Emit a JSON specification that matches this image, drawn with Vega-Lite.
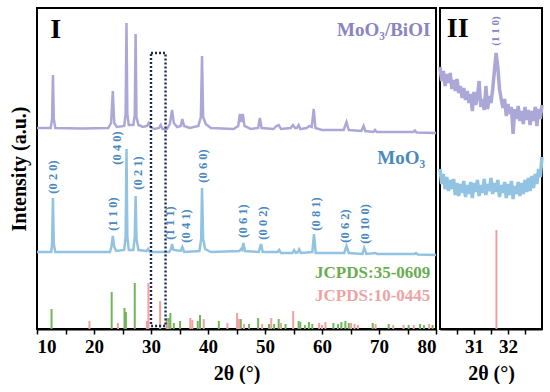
{
  "$schema": "https://vega.github.io/schema/vega-lite/v6.json",
  "padding": {"left": 8, "top": 7, "right": 7, "bottom": 0},
  "spacing": 4,
  "bounds": "flush",
  "config": {
    "font": "Liberation Serif",
    "view": {"stroke": "#000", "strokeWidth": 2},
    "axis": {
      "grid": false, "labelFont": "Liberation Serif", "titleFont": "Liberation Serif",
      "labelFontWeight": "bold", "titleFontWeight": "bold", "labelColor": "#000", "titleColor": "#000",
      "labelFontSize": 19, "titleFontSize": 20, "tickColor": "#000", "tickWidth": 1.5, "tickSize": 5,
      "domainColor": "#000", "domainWidth": 2, "labelPadding": 3, "titlePadding": 7
    }
  },
  "datasets": {
    "curves": [
      {"s":"BiOI","x":10,"y":201},{"s":"BiOI","x":12.4,"y":201},{"s":"BiOI","x":12.65,"y":210},{"s":"BiOI","x":12.8,"y":254},{"s":"BiOI","x":12.95,"y":210},{"s":"BiOI","x":13.2,"y":201},{"s":"BiOI","x":18,"y":200.5},{"s":"BiOI","x":22.5,"y":201},{"s":"BiOI","x":23.0,"y":206},{"s":"BiOI","x":23.3,"y":238},{"s":"BiOI","x":23.55,"y":206},{"s":"BiOI","x":24.0,"y":202},{"s":"BiOI","x":25.3,"y":203},{"s":"BiOI","x":25.55,"y":215},{"s":"BiOI","x":25.7,"y":306},{"s":"BiOI","x":25.85,"y":215},{"s":"BiOI","x":26.1,"y":204},{"s":"BiOI","x":26.9,"y":204},{"s":"BiOI","x":27.15,"y":214},{"s":"BiOI","x":27.3,"y":295},{"s":"BiOI","x":27.45,"y":212},{"s":"BiOI","x":27.8,"y":204},{"s":"BiOI","x":28.6,"y":202},{"s":"BiOI","x":29.3,"y":203},{"s":"BiOI","x":29.6,"y":206},{"s":"BiOI","x":29.9,"y":202},{"s":"BiOI","x":30.6,"y":200},{"s":"BiOI","x":31.4,"y":201},{"s":"BiOI","x":31.7,"y":204},{"s":"BiOI","x":32.0,"y":200},{"s":"BiOI","x":32.8,"y":200},{"s":"BiOI","x":33.3,"y":205},{"s":"BiOI","x":33.7,"y":219},{"s":"BiOI","x":34.0,"y":206},{"s":"BiOI","x":34.6,"y":202},{"s":"BiOI","x":35.2,"y":203},{"s":"BiOI","x":35.5,"y":210},{"s":"BiOI","x":35.8,"y":203},{"s":"BiOI","x":36.8,"y":201},{"s":"BiOI","x":38.3,"y":203},{"s":"BiOI","x":38.75,"y":212},{"s":"BiOI","x":38.95,"y":273},{"s":"BiOI","x":39.15,"y":212},{"s":"BiOI","x":39.6,"y":205},{"s":"BiOI","x":40.5,"y":201},{"s":"BiOI","x":44.5,"y":200},{"s":"BiOI","x":45.3,"y":203},{"s":"BiOI","x":45.6,"y":215},{"s":"BiOI","x":45.85,"y":207},{"s":"BiOI","x":46.1,"y":215},{"s":"BiOI","x":46.4,"y":203},{"s":"BiOI","x":47.5,"y":200},{"s":"BiOI","x":48.8,"y":201},{"s":"BiOI","x":49.1,"y":211},{"s":"BiOI","x":49.4,"y":201},{"s":"BiOI","x":51.5,"y":200},{"s":"BiOI","x":52.0,"y":203},{"s":"BiOI","x":52.4,"y":204},{"s":"BiOI","x":52.8,"y":200},{"s":"BiOI","x":54.5,"y":201},{"s":"BiOI","x":54.9,"y":204},{"s":"BiOI","x":55.3,"y":201},{"s":"BiOI","x":55.6,"y":201},{"s":"BiOI","x":55.9,"y":204},{"s":"BiOI","x":56.2,"y":200},{"s":"BiOI","x":57.3,"y":201},{"s":"BiOI","x":57.8,"y":203},{"s":"BiOI","x":58.2,"y":202},{"s":"BiOI","x":58.55,"y":220},{"s":"BiOI","x":58.85,"y":201},{"s":"BiOI","x":60,"y":199},{"s":"BiOI","x":63.8,"y":199},{"s":"BiOI","x":64.3,"y":207},{"s":"BiOI","x":64.7,"y":199},{"s":"BiOI","x":66.9,"y":198},{"s":"BiOI","x":67.3,"y":203},{"s":"BiOI","x":67.6,"y":198},{"s":"BiOI","x":69.0,"y":197},{"s":"BiOI","x":69.3,"y":199},{"s":"BiOI","x":69.6,"y":197},{"s":"BiOI","x":76,"y":197},{"s":"BiOI","x":76.3,"y":198.5},{"s":"BiOI","x":76.6,"y":196.5},{"s":"BiOI","x":80,"y":196},
      {"s":"MoO3","x":10,"y":77},{"s":"MoO3","x":12.5,"y":77},{"s":"MoO3","x":12.65,"y":85},{"s":"MoO3","x":12.8,"y":131},{"s":"MoO3","x":12.95,"y":85},{"s":"MoO3","x":13.2,"y":77},{"s":"MoO3","x":22.8,"y":77},{"s":"MoO3","x":23.05,"y":82},{"s":"MoO3","x":23.3,"y":93},{"s":"MoO3","x":23.55,"y":82},{"s":"MoO3","x":23.9,"y":78},{"s":"MoO3","x":25.3,"y":79},{"s":"MoO3","x":25.55,"y":92},{"s":"MoO3","x":25.7,"y":180},{"s":"MoO3","x":25.85,"y":92},{"s":"MoO3","x":26.1,"y":79},{"s":"MoO3","x":26.9,"y":79},{"s":"MoO3","x":27.15,"y":92},{"s":"MoO3","x":27.3,"y":133},{"s":"MoO3","x":27.45,"y":90},{"s":"MoO3","x":27.8,"y":79},{"s":"MoO3","x":29.2,"y":78},{"s":"MoO3","x":29.5,"y":80},{"s":"MoO3","x":29.8,"y":77},{"s":"MoO3","x":33.2,"y":77},{"s":"MoO3","x":33.5,"y":80},{"s":"MoO3","x":33.7,"y":85},{"s":"MoO3","x":33.95,"y":79},{"s":"MoO3","x":35.2,"y":78},{"s":"MoO3","x":35.5,"y":82},{"s":"MoO3","x":35.8,"y":77},{"s":"MoO3","x":38.5,"y":78},{"s":"MoO3","x":38.8,"y":90},{"s":"MoO3","x":38.95,"y":141},{"s":"MoO3","x":39.15,"y":90},{"s":"MoO3","x":39.5,"y":80},{"s":"MoO3","x":40.5,"y":77},{"s":"MoO3","x":45.5,"y":78},{"s":"MoO3","x":45.8,"y":80},{"s":"MoO3","x":46.0,"y":79},{"s":"MoO3","x":46.2,"y":86},{"s":"MoO3","x":46.5,"y":78},{"s":"MoO3","x":48.9,"y":77},{"s":"MoO3","x":49.3,"y":85},{"s":"MoO3","x":49.6,"y":77},{"s":"MoO3","x":52.2,"y":77},{"s":"MoO3","x":52.5,"y":79},{"s":"MoO3","x":52.8,"y":76},{"s":"MoO3","x":54.8,"y":76},{"s":"MoO3","x":55.1,"y":79},{"s":"MoO3","x":55.4,"y":76},{"s":"MoO3","x":55.8,"y":77},{"s":"MoO3","x":56.0,"y":79.5},{"s":"MoO3","x":56.3,"y":76},{"s":"MoO3","x":58.3,"y":77},{"s":"MoO3","x":58.6,"y":95},{"s":"MoO3","x":58.9,"y":76},{"s":"MoO3","x":63.9,"y":76},{"s":"MoO3","x":64.3,"y":83},{"s":"MoO3","x":64.7,"y":76},{"s":"MoO3","x":67.1,"y":75},{"s":"MoO3","x":67.4,"y":81},{"s":"MoO3","x":67.8,"y":75},{"s":"MoO3","x":69.4,"y":76},{"s":"MoO3","x":69.7,"y":75},{"s":"MoO3","x":76.2,"y":75},{"s":"MoO3","x":76.5,"y":76},{"s":"MoO3","x":76.8,"y":74.5},{"s":"MoO3","x":80,"y":74}
    ],
    "zoomcurves": [
      {"s":"BiOI","x":30.00,"y":262},{"s":"BiOI","x":30.05,"y":248},{"s":"BiOI","x":30.10,"y":258},{"s":"BiOI","x":30.15,"y":243},{"s":"BiOI","x":30.20,"y":255},{"s":"BiOI","x":30.25,"y":246},{"s":"BiOI","x":30.30,"y":256},{"s":"BiOI","x":30.35,"y":240},{"s":"BiOI","x":30.40,"y":249},{"s":"BiOI","x":30.45,"y":238},{"s":"BiOI","x":30.50,"y":250},{"s":"BiOI","x":30.55,"y":236},{"s":"BiOI","x":30.60,"y":243},{"s":"BiOI","x":30.65,"y":231},{"s":"BiOI","x":30.70,"y":241},{"s":"BiOI","x":30.75,"y":229},{"s":"BiOI","x":30.80,"y":238},{"s":"BiOI","x":30.85,"y":226},{"s":"BiOI","x":30.90,"y":235},{"s":"BiOI","x":30.95,"y":218},{"s":"BiOI","x":31.00,"y":237},{"s":"BiOI","x":31.05,"y":224},{"s":"BiOI","x":31.10,"y":232},{"s":"BiOI","x":31.15,"y":248},{"s":"BiOI","x":31.20,"y":222},{"s":"BiOI","x":31.25,"y":230},{"s":"BiOI","x":31.30,"y":219},{"s":"BiOI","x":31.35,"y":243},{"s":"BiOI","x":31.40,"y":220},{"s":"BiOI","x":31.45,"y":233},{"s":"BiOI","x":31.50,"y":226},{"s":"BiOI","x":31.55,"y":240},{"s":"BiOI","x":31.60,"y":258},{"s":"BiOI","x":31.65,"y":276},{"s":"BiOI","x":31.70,"y":262},{"s":"BiOI","x":31.75,"y":240},{"s":"BiOI","x":31.80,"y":230},{"s":"BiOI","x":31.85,"y":221},{"s":"BiOI","x":31.90,"y":230},{"s":"BiOI","x":31.95,"y":213},{"s":"BiOI","x":32.00,"y":225},{"s":"BiOI","x":32.05,"y":215},{"s":"BiOI","x":32.10,"y":222},{"s":"BiOI","x":32.15,"y":195},{"s":"BiOI","x":32.20,"y":220},{"s":"BiOI","x":32.25,"y":210},{"s":"BiOI","x":32.30,"y":223},{"s":"BiOI","x":32.35,"y":208},{"s":"BiOI","x":32.40,"y":218},{"s":"BiOI","x":32.45,"y":205},{"s":"BiOI","x":32.50,"y":222},{"s":"BiOI","x":32.55,"y":209},{"s":"BiOI","x":32.60,"y":219},{"s":"BiOI","x":32.65,"y":204},{"s":"BiOI","x":32.70,"y":218},{"s":"BiOI","x":32.75,"y":208},{"s":"BiOI","x":32.80,"y":222},{"s":"BiOI","x":32.85,"y":203},{"s":"BiOI","x":32.90,"y":220},{"s":"BiOI","x":32.95,"y":210},{"s":"BiOI","x":33.00,"y":224},
      {"s":"MoO3","x":30.00,"y":160},{"s":"MoO3","x":30.05,"y":145},{"s":"MoO3","x":30.10,"y":155},{"s":"MoO3","x":30.15,"y":140},{"s":"MoO3","x":30.20,"y":152},{"s":"MoO3","x":30.25,"y":138},{"s":"MoO3","x":30.30,"y":149},{"s":"MoO3","x":30.35,"y":140},{"s":"MoO3","x":30.40,"y":150},{"s":"MoO3","x":30.45,"y":134},{"s":"MoO3","x":30.50,"y":146},{"s":"MoO3","x":30.55,"y":133},{"s":"MoO3","x":30.60,"y":145},{"s":"MoO3","x":30.65,"y":136},{"s":"MoO3","x":30.70,"y":148},{"s":"MoO3","x":30.75,"y":132},{"s":"MoO3","x":30.80,"y":144},{"s":"MoO3","x":30.85,"y":135},{"s":"MoO3","x":30.90,"y":147},{"s":"MoO3","x":30.95,"y":131},{"s":"MoO3","x":31.00,"y":146},{"s":"MoO3","x":31.05,"y":137},{"s":"MoO3","x":31.10,"y":149},{"s":"MoO3","x":31.15,"y":133},{"s":"MoO3","x":31.20,"y":144},{"s":"MoO3","x":31.25,"y":136},{"s":"MoO3","x":31.30,"y":150},{"s":"MoO3","x":31.35,"y":134},{"s":"MoO3","x":31.40,"y":145},{"s":"MoO3","x":31.45,"y":138},{"s":"MoO3","x":31.50,"y":151},{"s":"MoO3","x":31.55,"y":135},{"s":"MoO3","x":31.60,"y":146},{"s":"MoO3","x":31.65,"y":137},{"s":"MoO3","x":31.70,"y":149},{"s":"MoO3","x":31.75,"y":132},{"s":"MoO3","x":31.80,"y":144},{"s":"MoO3","x":31.85,"y":136},{"s":"MoO3","x":31.90,"y":147},{"s":"MoO3","x":31.95,"y":131},{"s":"MoO3","x":32.00,"y":145},{"s":"MoO3","x":32.05,"y":134},{"s":"MoO3","x":32.10,"y":148},{"s":"MoO3","x":32.15,"y":130},{"s":"MoO3","x":32.20,"y":143},{"s":"MoO3","x":32.25,"y":135},{"s":"MoO3","x":32.30,"y":147},{"s":"MoO3","x":32.35,"y":133},{"s":"MoO3","x":32.40,"y":146},{"s":"MoO3","x":32.45,"y":135},{"s":"MoO3","x":32.50,"y":149},{"s":"MoO3","x":32.55,"y":137},{"s":"MoO3","x":32.60,"y":151},{"s":"MoO3","x":32.65,"y":138},{"s":"MoO3","x":32.70,"y":153},{"s":"MoO3","x":32.75,"y":141},{"s":"MoO3","x":32.80,"y":155},{"s":"MoO3","x":32.85,"y":145},{"s":"MoO3","x":32.90,"y":160},{"s":"MoO3","x":32.95,"y":152},{"s":"MoO3","x":33.00,"y":172}
    ],
    "sticks": [
      {"s":"g","x":12.55,"h":20},{"s":"g","x":23.1,"h":37},{"s":"g","x":25.35,"h":21},{"s":"g","x":25.6,"h":17},{"s":"g","x":27.15,"h":46},{"s":"g","x":32.75,"h":11},{"s":"g","x":33.1,"h":11},{"s":"g","x":33.4,"h":16},{"s":"g","x":34.0,"h":6},{"s":"g","x":35.1,"h":8},{"s":"g","x":38.2,"h":8},{"s":"g","x":38.6,"h":14},{"s":"g","x":41.9,"h":8},{"s":"g","x":45.75,"h":10},{"s":"g","x":47.2,"h":5},{"s":"g","x":48.8,"h":11},{"s":"g","x":50.7,"h":5},{"s":"g","x":51.6,"h":5},{"s":"g","x":52.4,"h":10},{"s":"g","x":53.6,"h":5},{"s":"g","x":55.9,"h":8},{"s":"g","x":56.2,"h":7},{"s":"g","x":57.0,"h":4},{"s":"g","x":57.7,"h":7},{"s":"g","x":58.3,"h":5},{"s":"g","x":62.0,"h":6},{"s":"g","x":62.8,"h":5},{"s":"g","x":63.4,"h":7},{"s":"g","x":64.1,"h":8},{"s":"g","x":64.7,"h":6},{"s":"g","x":68.9,"h":6},{"s":"g","x":71.7,"h":5},{"s":"g","x":75.2,"h":4},{"s":"g","x":77.2,"h":5},{"s":"g","x":77.9,"h":4},{"s":"g","x":79.4,"h":4},
      {"s":"r","x":19.2,"h":8},{"s":"r","x":24.2,"h":6},{"s":"r","x":29.3,"h":8},{"s":"r","x":29.55,"h":46},{"s":"r","x":31.6,"h":28},{"s":"r","x":32.9,"h":8},{"s":"r","x":36.9,"h":11},{"s":"r","x":37.25,"h":9},{"s":"r","x":39.25,"h":10},{"s":"r","x":43.4,"h":6},{"s":"r","x":45.1,"h":16},{"s":"r","x":45.45,"h":10},{"s":"r","x":46.3,"h":5},{"s":"r","x":49.5,"h":5},{"s":"r","x":51.1,"h":11},{"s":"r","x":52.8,"h":6},{"s":"r","x":54.95,"h":18},{"s":"r","x":59.5,"h":6},{"s":"r","x":60.0,"h":4},{"s":"r","x":60.6,"h":7},{"s":"r","x":65.1,"h":6},{"s":"r","x":65.7,"h":5},{"s":"r","x":66.3,"h":4},{"s":"r","x":69.4,"h":5},{"s":"r","x":72.5,"h":4},{"s":"r","x":74.3,"h":4},{"s":"r","x":76.1,"h":4},{"s":"r","x":78.8,"h":5}
    ],
    "hkl": [
      {"t":"(0 2 0)","x":12.8,"h":152},{"t":"(1 1 0)","x":23.3,"h":115},{"t":"(0 4 0)","x":23.95,"h":181},{"t":"(0 2 1)","x":27.8,"h":156},{"t":"(1 1 1)","x":33.4,"h":106},{"t":"(0 4 1)","x":36.1,"h":103},{"t":"(0 6 0)","x":39.1,"h":163},{"t":"(0 6 1)","x":46.2,"h":108},{"t":"(0 0 2)","x":49.7,"h":106},{"t":"(0 8 1)","x":59.0,"h":115},{"t":"(0 6 2)","x":64.1,"h":103},{"t":"(0 10 0)","x":67.6,"h":105}
    ]
  },
  "hconcat": [
    {
      "width": 399, "height": 321,
      "encoding": {
        "x": {"type": "quantitative", "scale": {"domain": [10, 80], "nice": false, "zero": false},
              "axis": {"values": [10,15,20,25,30,35,40,45,50,55,60,65,70,75,80], "labelExpr": "datum.value % 10 === 0 ? format(datum.value, 'd') : ''", "title": "2θ (°)", "labelFont": "Liberation Serif", "labelFontWeight": "bold"}},
        "y": {"type": "quantitative", "scale": {"domain": [0, 321], "nice": false, "zero": false},
              "axis": {"title": "Intensity (a.u.)", "labels": false, "ticks": false, "domain": false, "titlePadding": 8}}
      },
      "layer": [
        {"data": {"name": "curves"}, "transform": [{"filter": "datum.s === 'BiOI'"}], "mark": {"type": "line", "color": "#aba8d8", "strokeWidth": 2.5},
         "encoding": {"x": {"field": "x", "type": "quantitative"}, "y": {"field": "y", "type": "quantitative"}}},
        {"data": {"name": "curves"}, "transform": [{"filter": "datum.s === 'MoO3'"}], "mark": {"type": "line", "color": "#93c3e2", "strokeWidth": 2.5},
         "encoding": {"x": {"field": "x", "type": "quantitative"}, "y": {"field": "y", "type": "quantitative"}}},
        {"data": {"name": "sticks"}, "transform": [{"filter": "datum.s === 'g'"}], "mark": {"type": "rule", "color": "#72b65a", "strokeWidth": 2},
         "encoding": {"x": {"field": "x", "type": "quantitative"}, "y": {"field": "h", "type": "quantitative"}, "y2": {"datum": 0}}},
        {"data": {"name": "sticks"}, "transform": [{"filter": "datum.s === 'r'"}], "mark": {"type": "rule", "color": "#f2a0a0", "strokeWidth": 2},
         "encoding": {"x": {"field": "x", "type": "quantitative"}, "y": {"field": "h", "type": "quantitative"}, "y2": {"datum": 0}}},
        {"data": {"values": [{"x": 30, "x2": 32.55, "y": 3, "y2": 276}]},
         "mark": {"type": "rect", "fillOpacity": 0, "stroke": "#1c2a55", "strokeWidth": 2.4, "strokeDash": [2, 2]},
         "encoding": {"x": {"field": "x", "type": "quantitative"}, "x2": {"field": "x2"}, "y": {"field": "y", "type": "quantitative"}, "y2": {"field": "y2"}}},
        {"data": {"name": "hkl"}, "mark": {"type": "text", "angle": 270, "font": "Liberation Serif", "fontWeight": "bold", "fontSize": 12.5, "color": "#4a89bf", "align": "center", "baseline": "middle"},
         "encoding": {"x": {"field": "x", "type": "quantitative"}, "y": {"field": "h", "type": "quantitative"}, "text": {"field": "t"}}},
        {"data": {"values": [{"t": "MoO₃/BiOI", "x": 79.0, "h": 299}]}, "mark": {"type": "text", "font": "Liberation Serif", "fontWeight": "bold", "fontSize": 19, "color": "#8984c2", "align": "right", "baseline": "middle"},
         "encoding": {"x": {"field": "x", "type": "quantitative"}, "y": {"field": "h", "type": "quantitative"}, "text": {"field": "t"}}},
        {"data": {"values": [{"t": "MoO₃", "x": 78.1, "h": 171}]}, "mark": {"type": "text", "font": "Liberation Serif", "fontWeight": "bold", "fontSize": 19, "color": "#4a89bf", "align": "right", "baseline": "middle"},
         "encoding": {"x": {"field": "x", "type": "quantitative"}, "y": {"field": "h", "type": "quantitative"}, "text": {"field": "t"}}},
        {"data": {"values": [{"t": "JCPDS:35-0609", "x": 79.0, "h": 56}]}, "mark": {"type": "text", "font": "Liberation Serif", "fontWeight": "bold", "fontSize": 17, "color": "#6aad4f", "align": "right", "baseline": "middle"},
         "encoding": {"x": {"field": "x", "type": "quantitative"}, "y": {"field": "h", "type": "quantitative"}, "text": {"field": "t"}}},
        {"data": {"values": [{"t": "JCPDS:10-0445", "x": 79.0, "h": 33}]}, "mark": {"type": "text", "font": "Liberation Serif", "fontWeight": "bold", "fontSize": 17, "color": "#eea3a3", "align": "right", "baseline": "middle"},
         "encoding": {"x": {"field": "x", "type": "quantitative"}, "y": {"field": "h", "type": "quantitative"}, "text": {"field": "t"}}},
        {"data": {"values": [{"t": "I", "x": 13.3, "h": 299}]}, "mark": {"type": "text", "font": "Liberation Serif", "fontWeight": "bold", "fontSize": 28, "color": "#000", "align": "center", "baseline": "middle"},
         "encoding": {"x": {"field": "x", "type": "quantitative"}, "y": {"field": "h", "type": "quantitative"}, "text": {"field": "t"}}}
      ]
    },
    {
      "width": 102, "height": 321,
      "encoding": {
        "x": {"type": "quantitative", "scale": {"domain": [30, 33], "nice": false, "zero": false},
              "axis": {"values": [30.5, 31, 31.5, 32, 32.5], "labelExpr": "datum.value % 1 === 0 ? format(datum.value, 'd') : ''", "title": "2θ (°)", "labelFont": "Liberation Serif", "labelFontWeight": "bold"}},
        "y": {"type": "quantitative", "scale": {"domain": [0, 321], "nice": false, "zero": false}, "axis": null}
      },
      "layer": [
        {"data": {"name": "zoomcurves"}, "transform": [{"filter": "datum.s === 'BiOI'"}], "mark": {"type": "line", "color": "#aba8d8", "strokeWidth": 3.5},
         "encoding": {"x": {"field": "x", "type": "quantitative"}, "y": {"field": "y", "type": "quantitative"}}},
        {"data": {"name": "zoomcurves"}, "transform": [{"filter": "datum.s === 'MoO3'"}], "mark": {"type": "line", "color": "#93c3e2", "strokeWidth": 3.5},
         "encoding": {"x": {"field": "x", "type": "quantitative"}, "y": {"field": "y", "type": "quantitative"}}},
        {"data": {"values": [{"x": 31.66, "h": 99}]}, "mark": {"type": "rule", "color": "#f2a0a0", "strokeWidth": 2},
         "encoding": {"x": {"field": "x", "type": "quantitative"}, "y": {"field": "h", "type": "quantitative"}, "y2": {"datum": 0}}},
        {"data": {"values": [{"t": "(1 1 0)", "x": 31.66, "h": 298}]}, "mark": {"type": "text", "angle": 270, "font": "Liberation Serif", "fontWeight": "bold", "fontSize": 11, "color": "#8984c2", "align": "center", "baseline": "middle"},
         "encoding": {"x": {"field": "x", "type": "quantitative"}, "y": {"field": "h", "type": "quantitative"}, "text": {"field": "t"}}},
        {"data": {"values": [{"t": "II", "x": 30.52, "h": 300}]}, "mark": {"type": "text", "font": "Liberation Serif", "fontWeight": "bold", "fontSize": 28, "color": "#000", "align": "center", "baseline": "middle"},
         "encoding": {"x": {"field": "x", "type": "quantitative"}, "y": {"field": "h", "type": "quantitative"}, "text": {"field": "t"}}}
      ]
    }
  ]
}
